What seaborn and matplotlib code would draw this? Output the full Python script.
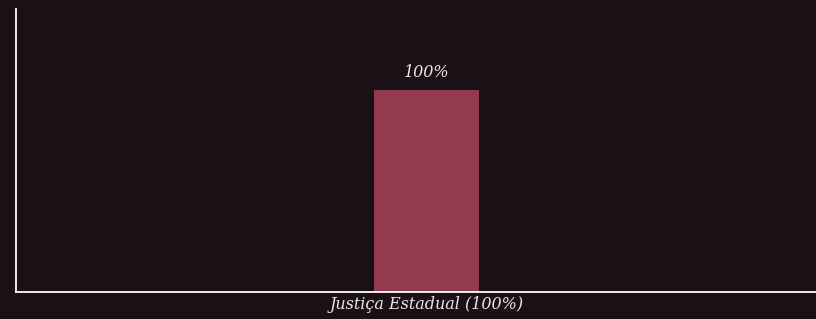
import matplotlib
matplotlib.use("Agg")
import matplotlib.pyplot as plt
import pandas as pd
import seaborn as sns

categories = ["Justiça Estadual (100%)"]
values = [100]
bar_labels = ["100%"]

bg = "#1c1017"
bar_color = "#943a4f"

sns.set_theme(style="white")
plt.rcParams["font.family"] = ["DejaVu Serif"]

df = pd.DataFrame({"categoria": categories, "valor": values})

fig = plt.figure(figsize=(8.16, 3.19), dpi=100, facecolor=bg)
ax = fig.add_axes([16 / 816, 27 / 319, 800 / 816, 283 / 319])
ax.set_facecolor(bg)

sns.barplot(data=df, x="categoria", y="valor", color=bar_color, width=0.5,
            saturation=1, linewidth=0, ax=ax)

for patch, txt in zip(ax.patches, bar_labels):
    ax.text(patch.get_x() + patch.get_width() / 2, patch.get_height() + 4.5, txt,
            ha="center", va="bottom", color="#e8e8e8", fontsize=11.5, style="italic")

ax.set_xlim(-1.955, 1.855)
ax.set_ylim(0, 140)
ax.set_xlabel("")
ax.set_ylabel("")
ax.set_yticks([])
ax.tick_params(axis="x", length=0, pad=3, colors="#e8e8e8", labelsize=11.5)
for lbl in ax.get_xticklabels():
    lbl.set_style("italic")

for side in ["top", "right"]:
    ax.spines[side].set_visible(False)
for side in ["left", "bottom"]:
    ax.spines[side].set_color("white")
    ax.spines[side].set_linewidth(1.3)

fig.savefig("out.png", dpi=100, facecolor=bg)
